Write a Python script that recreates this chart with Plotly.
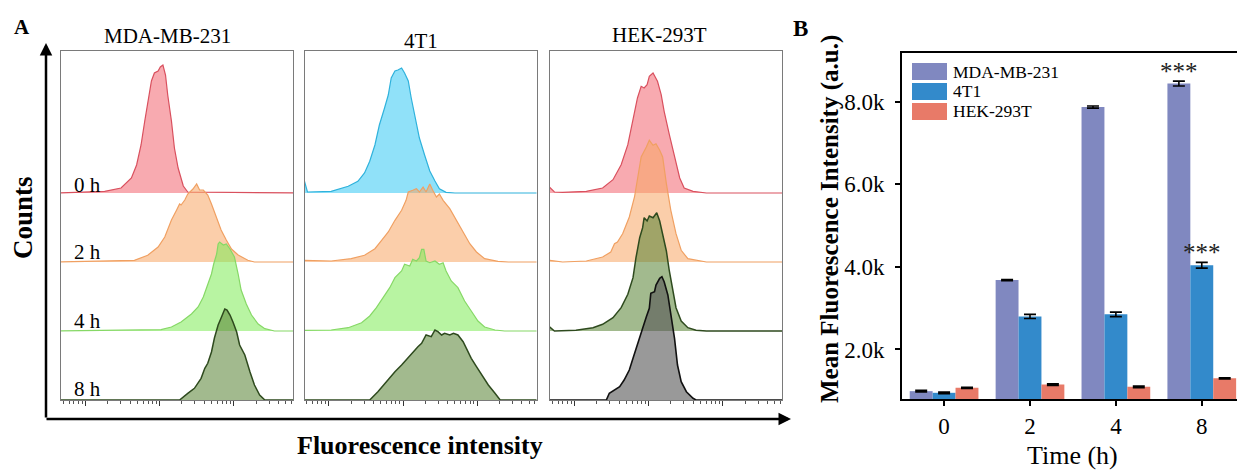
import plotly.graph_objects as go

SERIF = "Liberation Serif, Times New Roman, serif"
W, H = 1237, 475

# ---------------- Panel A: flow cytometry histograms ----------------
CELL_LINES = ["MDA-MB-231", "4T1", "HEK-293T"]
TIME_LABELS = ["0 h", "2 h", "4 h", "8 h"]

# (log10 fluorescence intensity, cell counts)
HIST_MDA_0H = [(2.60, 0), (3.26, 1.7), (3.48, 5), (3.62, 15), (3.69, 28), (3.75, 48), (3.80, 72),
               (3.84, 92), (3.89, 112), (3.93, 120), (3.98, 122), (4.01, 126), (4.045, 128),
               (4.08, 118), (4.11, 98), (4.16, 72), (4.20, 45), (4.25, 25), (4.32, 7), (4.38, 1),
               (5.90, 0)]
HIST_MDA_2H = [(2.60, 0), (3.66, 1.7), (3.84, 6.7), (3.98, 15), (4.07, 25), (4.16, 42), (4.23, 52),
               (4.27, 58), (4.29, 57), (4.34, 62), (4.38, 68), (4.45, 73), (4.50, 78), (4.54, 72),
               (4.59, 72), (4.61, 70), (4.65, 67), (4.70, 58), (4.77, 45), (4.83, 32), (4.90, 22),
               (4.97, 13), (5.06, 7), (5.19, 1.7), (5.28, 0), (5.90, 0)]
HIST_MDA_4H = [(2.60, 0), (4.02, 1.3), (4.16, 4), (4.29, 9), (4.43, 17), (4.52, 24), (4.59, 34),
               (4.65, 47), (4.70, 57), (4.73, 67), (4.77, 77), (4.79, 87), (4.81, 89), (4.86, 86),
               (4.90, 87), (4.95, 82), (5.01, 74), (5.06, 57), (5.10, 41), (5.17, 27), (5.24, 16),
               (5.33, 7), (5.42, 2.3), (5.55, 0), (5.90, 0)]
HIST_MDA_8H = [(2.60, 0), (4.27, 0), (4.38, 6.7), (4.47, 11.7), (4.56, 21.7), (4.61, 31.7),
               (4.65, 36.7), (4.70, 48), (4.74, 62), (4.79, 75), (4.83, 82), (4.88, 91), (4.91, 90),
               (4.95, 85), (4.99, 78), (5.04, 68), (5.08, 55), (5.15, 45), (5.22, 28), (5.28, 15),
               (5.35, 5), (5.42, 0), (5.90, 0)]

HIST_4T1_0H = [(2.60, 0), (2.665, 13), (2.71, 1), (3.03, 1.7), (3.26, 6.7), (3.39, 11.7), (3.48, 20),
               (3.55, 31.7), (3.62, 48), (3.68, 68), (3.75, 85), (3.80, 98), (3.84, 115), (3.89, 122),
               (3.93, 123), (3.98, 125), (4.02, 120), (4.07, 112), (4.11, 95), (4.16, 75), (4.22, 55),
               (4.29, 38), (4.36, 22), (4.43, 12), (4.49, 4.3), (4.58, 0.7), (4.70, 0), (5.90, 0)]
HIST_4T1_2H = [(2.60, 0), (2.67, 1.7), (3.03, 1), (3.30, 3.3), (3.48, 6.7), (3.62, 13.3), (3.71, 21.7),
               (3.80, 30), (3.89, 41.7), (3.98, 51.7), (4.04, 61.7), (4.07, 70), (4.13, 71.7),
               (4.18, 73.3), (4.22, 70), (4.27, 75), (4.31, 70), (4.36, 78), (4.40, 71.7), (4.45, 65),
               (4.49, 68), (4.54, 61.7), (4.63, 53.3), (4.72, 41.7), (4.81, 30), (4.90, 18.3),
               (4.99, 10), (5.10, 3.3), (5.28, 0.7), (5.42, 0), (5.90, 0)]
HIST_4T1_4H = [(2.60, 0), (2.67, 0.7), (3.03, 1), (3.26, 3.3), (3.44, 8.3), (3.55, 15), (3.64, 23.3),
               (3.73, 33.3), (3.82, 43.3), (3.89, 53.3), (3.98, 60), (4.02, 66.7), (4.09, 65),
               (4.13, 71.7), (4.18, 70), (4.22, 73.3), (4.25, 81.7), (4.28, 81.7), (4.31, 70),
               (4.36, 68.3), (4.43, 70), (4.49, 66.7), (4.54, 68.3), (4.58, 60), (4.65, 50),
               (4.74, 43.3), (4.83, 30), (4.92, 20), (5.01, 10), (5.10, 4), (5.24, 1), (5.37, 0),
               (5.90, 0)]
HIST_4T1_8H = [(2.60, 0), (3.55, 0), (3.66, 8.3), (3.77, 18.3), (3.89, 28.3), (3.98, 35), (4.04, 40),
               (4.13, 48.3), (4.20, 53.3), (4.25, 56.7), (4.31, 65), (4.38, 63.3), (4.43, 70),
               (4.47, 68.3), (4.52, 65), (4.56, 66.7), (4.63, 65), (4.68, 66.7), (4.74, 65),
               (4.81, 58.3), (4.86, 50), (4.92, 41.7), (4.99, 33.3), (5.06, 25), (5.15, 15),
               (5.24, 6.7), (5.31, 0), (5.90, 0)]

HIST_HEK_0H = [(2.60, 0), (2.665, 5.7), (2.73, 1), (2.84, 0.7), (3.16, 1.7), (3.38, 5), (3.52, 13.3),
               (3.63, 28.3), (3.72, 48.3), (3.79, 71.7), (3.85, 95), (3.90, 106.7), (3.94, 105),
               (3.98, 108.3), (4.01, 116.7), (4.06, 120), (4.12, 111.7), (4.17, 98.3), (4.21, 81.7),
               (4.28, 58.3), (4.35, 35), (4.42, 15), (4.48, 5), (4.60, 1.7), (4.78, 0), (5.90, 0)]
HIST_HEK_2H = [(2.60, 0), (2.67, 1.7), (2.84, 0), (3.16, 1), (3.38, 5), (3.49, 10), (3.54, 18.3),
               (3.58, 20), (3.65, 28.3), (3.74, 45), (3.81, 65), (3.85, 85), (3.90, 105), (3.97, 115),
               (4.01, 121.7), (4.06, 116.7), (4.10, 118.3), (4.15, 111.7), (4.19, 105), (4.24, 78.3),
               (4.30, 51.7), (4.37, 28.3), (4.44, 11.7), (4.53, 3.3), (4.78, 0), (5.90, 0)]
HIST_HEK_4H = [(2.60, 0), (2.665, 4), (2.73, 0), (3.02, 0.7), (3.25, 3.3), (3.38, 6.7), (3.52, 13.3),
               (3.63, 23.3), (3.72, 36.7), (3.79, 53.3), (3.83, 73.3), (3.88, 93.3), (3.92, 103.3),
               (3.94, 113.3), (3.98, 110), (4.01, 115), (4.06, 113.3), (4.11, 118.3), (4.15, 110),
               (4.19, 96.7), (4.24, 80), (4.28, 60), (4.33, 40), (4.37, 23.3), (4.44, 10), (4.53, 3.3),
               (4.64, 0.7), (4.78, 0), (5.90, 0)]
HIST_HEK_8H = [(2.60, 0), (3.43, 0), (3.47, 6.7), (3.54, 10), (3.61, 13.3), (3.67, 20), (3.74, 30),
               (3.79, 41.7), (3.83, 51.7), (3.88, 61.7), (3.92, 71.7), (3.97, 83.3), (4.01, 91.7),
               (4.03, 106.7), (4.08, 108.3), (4.10, 115), (4.15, 121.7), (4.18, 123.3), (4.21, 118.3),
               (4.26, 105), (4.30, 85), (4.35, 61.7), (4.39, 35), (4.44, 18.3), (4.51, 8.3),
               (4.60, 1.7), (4.64, 0), (5.90, 0)]

# ---------------- Panel B: mean fluorescence intensity ----------------
TIME_POINTS = ["0", "2", "4", "8"]
SERIES_NAMES = ["MDA-MB-231", "4T1", "HEK-293T"]
MFI_MDA = [990, 3680, 7870, 8440]
MFI_4T1 = [950, 2800, 2850, 4040]
MFI_HEK = [1070, 1150, 1095, 1300]
ERR_MDA = [20, 15, 25, 60]
ERR_4T1 = [20, 50, 55, 70]
ERR_HEK = [15, 20, 20, 15]
SIG_MDA = ["", "", "", "***"]
SIG_4T1 = ["", "", "", "***"]
SIG_HEK = ["", "", "", ""]
Y_TICKS = [2000, 4000, 6000, 8000]
Y_TICK_TEXT = ["2.0k", "4.0k", "6.0k", "8.0k"]

# ---------------- styling ----------------
HIST_STYLE = {
    "red": ("rgba(242,100,112,0.55)", "#D9505E", 1.2),
    "orange": ("rgba(247,165,100,0.55)", "#F0A062", 1.2),
    "lime": ("rgba(125,235,85,0.55)", "#86D866", 1.2),
    "olive": ("rgba(85,130,50,0.55)", "#2E4A1E", 1.5),
    "cyan": ("rgba(70,205,245,0.60)", "#2FB2DC", 1.2),
    "gray": ("rgba(85,85,85,0.60)", "#111111", 1.6),
}
PANEL_HISTS = [
    ([HIST_MDA_0H, HIST_MDA_2H, HIST_MDA_4H, HIST_MDA_8H], ["red", "orange", "lime", "olive"]),
    ([HIST_4T1_0H, HIST_4T1_2H, HIST_4T1_4H, HIST_4T1_8H], ["cyan", "orange", "lime", "olive"]),
    ([HIST_HEK_0H, HIST_HEK_2H, HIST_HEK_4H, HIST_HEK_8H], ["red", "orange", "olive", "gray"]),
]
ROW_BASE = [207, 138, 69, 0]          # vertical offset of each stacked histogram
BAR_COLORS = ["#8088C0", "#338ACB", "#E87A68"]


def px(x):
    return x / W


def py(y):
    return (H - y) / H


def label(x, y, text, size, **kw):
    d = dict(x=px(x), y=py(y), xref="paper", yref="paper", text=text, showarrow=False,
             xanchor="center", yanchor="middle",
             font=dict(family=SERIF, size=size, color="black"))
    d.update(kw)
    return d


fig = go.Figure()
annotations = []
shapes = []

box_x = [(61, 293), (304.5, 536.5), (550, 782)]
hist_dom_y = [py(400), py(51)]
minor_vals = [m * 10 ** d for d in (2, 3, 4, 5) for m in range(2, 10)]

for i, ((hists, styles), (x0, x1)) in enumerate(zip(PANEL_HISTS, box_x)):
    sfx = "" if i == 0 else str(i + 1)
    for row, (pts, sname) in enumerate(zip(hists, styles)):
        fill, line, lw = HIST_STYLE[sname]
        fig.add_trace(go.Scatter(
            x=[10 ** p[0] for p in pts],
            y=[ROW_BASE[row] + p[1] for p in pts],
            mode="lines", fill="toself", fillcolor=fill,
            line=dict(color=line, width=lw),
            xaxis="x" + sfx, yaxis="y" + sfx, hoverinfo="skip", showlegend=False,
        ))
    fig.layout["xaxis" + sfx] = dict(
        type="log", domain=[px(x0), px(x1)], range=[2.67, 5.80], anchor="y" + sfx,
        showline=True, linecolor="#7a7a7a", linewidth=1.3, mirror=True,
        tickmode="array", tickvals=[1e3, 1e4, 1e5], ticks="outside", ticklen=5,
        tickwidth=1.4, tickcolor="#333", showticklabels=False, showgrid=False,
        zeroline=False, fixedrange=True,
        minor=dict(tickmode="array", tickvals=minor_vals, ticks="outside", ticklen=3,
                   tickwidth=1, tickcolor="#555", showgrid=False),
    )
    fig.layout["yaxis" + sfx] = dict(
        domain=hist_dom_y, range=[0, 349], anchor="x" + sfx,
        showline=True, linecolor="#7a7a7a", linewidth=1.3, mirror=True,
        ticks="", showticklabels=False, showgrid=False, zeroline=False,
    )

# grouped bars with significance marks
bar_series = [(MFI_MDA, ERR_MDA, SIG_MDA), (MFI_4T1, ERR_4T1, SIG_4T1), (MFI_HEK, ERR_HEK, SIG_HEK)]
xpos = list(range(len(TIME_POINTS)))
for k, ((vals, errs, sig), name, color) in enumerate(zip(bar_series, SERIES_NAMES, BAR_COLORS)):
    fig.add_trace(go.Bar(
        x=xpos, y=vals, name=name, marker=dict(color=color, line=dict(width=0)),
        error_y=dict(type="data", array=errs, color="black", thickness=1.6, width=6),
        xaxis="x4", yaxis="y4", showlegend=False,
    ))
    for j, s in enumerate(sig):
        if s:
            annotations.append(dict(
                x=j + (k - 1) * 0.8 / 3, y=vals[j] + errs[j], xref="x4", yref="y4",
                text=s, showarrow=False, xanchor="center", yanchor="bottom", yshift=-6,
                font=dict(family=SERIF, size=25, color="#222"),
            ))

# legend for the bars
for k, (name, color) in enumerate(zip(SERIES_NAMES, BAR_COLORS)):
    top = 63 + k * 20
    shapes.append(dict(type="rect", xref="paper", yref="paper",
                       x0=px(912), x1=px(947), y0=py(top + 17), y1=py(top),
                       fillcolor=color, line=dict(width=0)))
    annotations.append(label(952, top + 8.5, name, 17.5, xanchor="left", borderpad=0))

# panel A texts
title_pos = [(167, 36), (421, 41), (659, 35)]
for name, (tx, ty) in zip(CELL_LINES, title_pos):
    annotations.append(label(tx, ty, name, 21))
row_label_y = [185, 252, 321, 389]
for lab, ly in zip(TIME_LABELS, row_label_y):
    annotations.append(label(72, ly, lab, 21, xanchor="left"))

annotations += [
    label(22, 27, "<b>A</b>", 21),
    label(800, 28, "<b>B</b>", 23),
    label(23, 218, "<b>Counts</b>", 27, textangle=-90),
    label(420, 445, "<b>Fluorescence intensity</b>", 26),
    label(830, 219, "<b>Mean Fluorescence Intensity (a.u.)</b>", 25, textangle=-90),
    label(1072, 455, "Time (h)", 26),
    # axis arrows of panel A
    dict(x=px(46), y=py(43), xref="paper", yref="paper", text="", showarrow=True,
         ax=0, ay=376, arrowhead=2, arrowsize=1, arrowwidth=2.5, arrowcolor="black"),
    dict(x=px(791), y=py(419), xref="paper", yref="paper", text="", showarrow=True,
         ax=-746, ay=0, arrowhead=2, arrowsize=1, arrowwidth=2.5, arrowcolor="black"),
]

fig.update_layout(
    xaxis4=dict(domain=[px(902), 1.0], anchor="y4", range=[-0.49, 3.41],
                tickmode="array", tickvals=xpos, ticktext=TIME_POINTS,
                ticks="outside", ticklen=5, tickwidth=1.5, tickcolor="black",
                showline=True, linecolor="black", linewidth=2, mirror=True,
                showgrid=False, zeroline=False,
                tickfont=dict(family=SERIF, size=23, color="black")),
    yaxis4=dict(domain=[py(399), py(53)], anchor="x4", range=[800, 9180],
                tickmode="array", tickvals=Y_TICKS, ticktext=Y_TICK_TEXT,
                ticks="outside", ticklen=5, tickwidth=1.5, tickcolor="black",
                showline=True, linecolor="black", linewidth=2,
                showgrid=False, zeroline=False, ticklabelstandoff=6,
                tickfont=dict(family=SERIF, size=23, color="black")),
    barmode="group", bargap=0.2, bargroupgap=0,
    width=W, height=H, margin=dict(l=0, r=0, t=0, b=0),
    paper_bgcolor="white", plot_bgcolor="rgba(0,0,0,0)",
    shapes=shapes, annotations=annotations, showlegend=False,
    font=dict(family=SERIF, color="black"),
)

fig.write_html("out.html")
